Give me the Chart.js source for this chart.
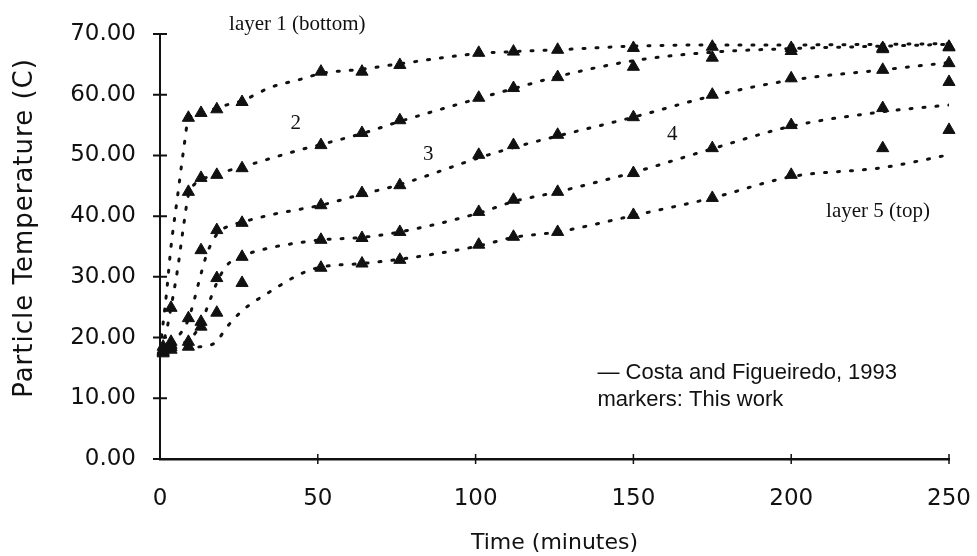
<!DOCTYPE html>
<html>

<head>
    <script src="https://cdn.jsdelivr.net/npm/chart.js@4.4.2/dist/chart.umd.min.js"></script>
    <style>
        html, body { margin: 0; padding: 0; background: #fff; }
        #wrap { position: relative; width: 977px; height: 556px; }
    </style>
</head>

<body>
    <div id="wrap"><canvas id="chart"></canvas></div>
</body>
<script>
    // model curves (Costa and Figueiredo, 1993), minutes vs degrees C
    const modelTime = [0, 2, 3.5, 5.5, 7.5, 9, 11, 13, 15, 18, 21, 26, 35, 45, 51, 64, 76, 101, 112, 126, 150, 175, 200, 229, 250];
    const modelLayer1 = [18, 27, 35, 43, 51, 56, 56.6, 57, 57.3, 57.8, 58.3, 59, 61.2, 62.6, 63.5, 64.2, 65.1, 66.8, 67.1, 67.4, 68.0, 68.2, 68.2, 68.3, 68.4];
    const modelLayer2 = [18, 21, 25, 31, 38.5, 43.5, 45.3, 46.1, 46.4, 46.9, 47.4, 48.1, 49.5, 51, 51.8, 53.6, 55.6, 59.4, 61, 63, 65.6, 67.0, 67.6, 68.0, 68.3];
    const modelLayer3 = [18, 18.5, 19, 20, 21.5, 23, 26.5, 30.5, 34, 37, 38.2, 39, 40.2, 41.2, 41.8, 43.6, 45.2, 49.6, 51.3, 53.2, 56.3, 59.8, 62.4, 64.1, 65.3];
    const modelLayer4 = [18, 18.2, 18.4, 18.7, 19.1, 19.6, 20.6, 22.3, 25, 29, 31.8, 33.4, 34.8, 35.7, 36.1, 36.5, 37.4, 40.5, 42.4, 44, 47.2, 51.1, 54.8, 57.2, 58.3];
    const modelLayer5 = [18, 18, 18, 18.1, 18.2, 18.3, 18.4, 18.5, 18.6, 19.4, 21.6, 24.4, 27.6, 30.6, 31.6, 32.2, 32.9, 35.1, 36.5, 37.4, 40.1, 43, 46.5, 48, 50.1];

    // markers (this work)
    const sampleTime = [1, 3.5, 9, 13, 18, 26, 51, 64, 76, 101, 112, 126, 150, 175, 200, 229, 250];
    const sampleLayer1 = [18.5, 24.9, 56.2, 57.0, 57.6, 58.8, 63.8, 63.8, 64.9, 66.9, 67.1, 67.4, 67.7, 67.9, 67.7, 67.7, 67.9];
    const sampleLayer2 = [18.0, 19.3, 44.0, 46.3, 46.8, 47.9, 51.7, 53.7, 55.8, 59.5, 61.1, 62.9, 64.6, 66.1, 67.2, 67.5, 67.8];
    const sampleLayer3 = [17.8, 18.8, 23.2, 34.4, 37.7, 38.9, 41.8, 43.8, 45.1, 50.1, 51.7, 53.4, 56.3, 60.0, 62.7, 64.1, 65.2];
    const sampleLayer4 = [17.6, 18.4, 19.3, 22.6, 29.8, 33.3, 36.1, 36.4, 37.4, 40.7, 42.7, 44.0, 47.1, 51.2, 55.0, 57.8, 62.1];
    const sampleLayer5 = [17.4, 18.0, 18.5, 21.8, 24.1, 29.0, 31.5, 32.2, 32.8, 35.3, 36.6, 37.4, 40.2, 43.0, 46.8, 51.2, 54.2];

    const xTicks = [0, 50, 100, 150, 200, 250];
    const yTicks = [0, 10, 20, 30, 40, 50, 60, 70];

    const ink = '#111';

    function curve(values) {
        return {
            type: 'line',
            data: modelTime.map((t, i) => ({ x: t, y: values[i] })),
            borderColor: ink,
            borderWidth: 3,
            borderDash: [2, 11],
            borderCapStyle: 'round',
            cubicInterpolationMode: 'monotone',
            pointRadius: 0,
            fill: false,
            order: 1
        };
    }

    function markers(values) {
        return {
            type: 'scatter',
            data: sampleTime.map((t, i) => ({ x: t, y: values[i] })),
            pointStyle: 'triangle',
            pointRadius: 7,
            backgroundColor: ink,
            borderColor: ink,
            borderWidth: 1,
            clip: false,
            order: 0
        };
    }

    // cross-shaped tick marks on both axes
    const crossTicks = {
        id: 'crossTicks',
        afterDraw(chart) {
            const { ctx, scales: { x, y }, chartArea } = chart;
            ctx.save();
            ctx.strokeStyle = ink;
            ctx.lineWidth = 2;
            ctx.beginPath();
            for (const v of yTicks) {
                const py = y.getPixelForValue(v);
                ctx.moveTo(chartArea.left - 7, py);
                ctx.lineTo(chartArea.left + 7, py);
            }
            ctx.stroke();
            ctx.lineWidth = 1.5;
            ctx.beginPath();
            for (const v of xTicks) {
                if (v === 0) continue;
                const px = x.getPixelForValue(v);
                ctx.moveTo(px, chartArea.bottom - 5);
                ctx.lineTo(px, chartArea.bottom + 5);
            }
            ctx.stroke();
            ctx.restore();
        }
    };

    // layer captions, legend note and the vertical axis title
    const notes = {
        id: 'notes',
        afterDraw(chart) {
            const { ctx, scales: { x, y } } = chart;
            const put = (text, t, v, font, align) => {
                ctx.font = font;
                ctx.textAlign = align || 'center';
                ctx.fillText(text, x.getPixelForValue(t), y.getPixelForValue(v));
            };
            ctx.save();
            ctx.fillStyle = ink;
            ctx.textBaseline = 'middle';
            const serif = '21px "Liberation Serif"';
            put('layer 1 (bottom)', 43.5, 71.5, serif);
            put('2', 43, 55.2, serif);
            put('3', 85, 50.2, serif);
            put('4', 162.3, 53.4, serif);
            put('layer 5 (top)', 227.5, 40.7, serif);
            const sans = '22px "Liberation Sans"';
            put('\u2014 Costa and Figueiredo, 1993', 138.6, 14.2, sans, 'left');
            put('markers: This work', 138.6, 9.7, sans, 'left');

            ctx.translate(25, 228);
            ctx.rotate(-Math.PI / 2);
            ctx.font = '26px "DejaVu Sans"';
            ctx.letterSpacing = '1px';
            ctx.textAlign = 'center';
            ctx.fillText('Particle Temperature (C)', 0, 0);
            ctx.restore();
        }
    };

    const config = {
        type: 'scatter',
        data: {
            datasets: [
                curve(modelLayer1), curve(modelLayer2), curve(modelLayer3), curve(modelLayer4), curve(modelLayer5),
                markers(sampleLayer1), markers(sampleLayer2), markers(sampleLayer3), markers(sampleLayer4), markers(sampleLayer5)
            ]
        },
        options: {
            responsive: true,
            maintainAspectRatio: false,
            animation: false,
            devicePixelRatio: 1,
            layout: { padding: { top: 34, right: 28, left: 0, bottom: 0 } },
            plugins: {
                legend: { display: false },
                tooltip: { enabled: false }
            },
            scales: {
                x: {
                    type: 'linear',
                    min: 0,
                    max: 250,
                    afterBuildTicks: (s) => { s.ticks = xTicks.map(v => ({ value: v })); },
                    afterFit: (s) => {
                        s.height = 97;
                        s.paddingLeft = 0;
                        s.paddingRight = 0;
                    },
                    grid: { display: false, drawTicks: false },
                    border: { display: true, color: ink, width: 2.5 },
                    ticks: {
                        color: ink,
                        padding: 26,
                        maxRotation: 0,
                        font: { family: 'DejaVu Sans', size: 23 }
                    },
                    title: {
                        display: true,
                        text: 'Time (minutes)',
                        color: ink,
                        font: { family: 'DejaVu Sans', size: 22 },
                        padding: { top: 0, bottom: 0 }
                    }
                },
                y: {
                    min: 0,
                    max: 70,
                    afterBuildTicks: (s) => { s.ticks = yTicks.map(v => ({ value: v })); },
                    afterFit: (s) => {
                        s.width = 160;
                        s.paddingTop = 0;
                        s.paddingBottom = 0;
                    },
                    grid: { display: false, drawTicks: false },
                    border: { display: true, color: ink, width: 2 },
                    ticks: {
                        color: ink,
                        padding: 24,
                        font: { family: 'DejaVu Sans', size: 23 },
                        callback: (v) => Number(v).toFixed(2)
                    }
                }
            }
        },
        plugins: [crossTicks, notes]
    };

    const chart = new Chart(document.getElementById('chart'), config);
</script>

</html>
